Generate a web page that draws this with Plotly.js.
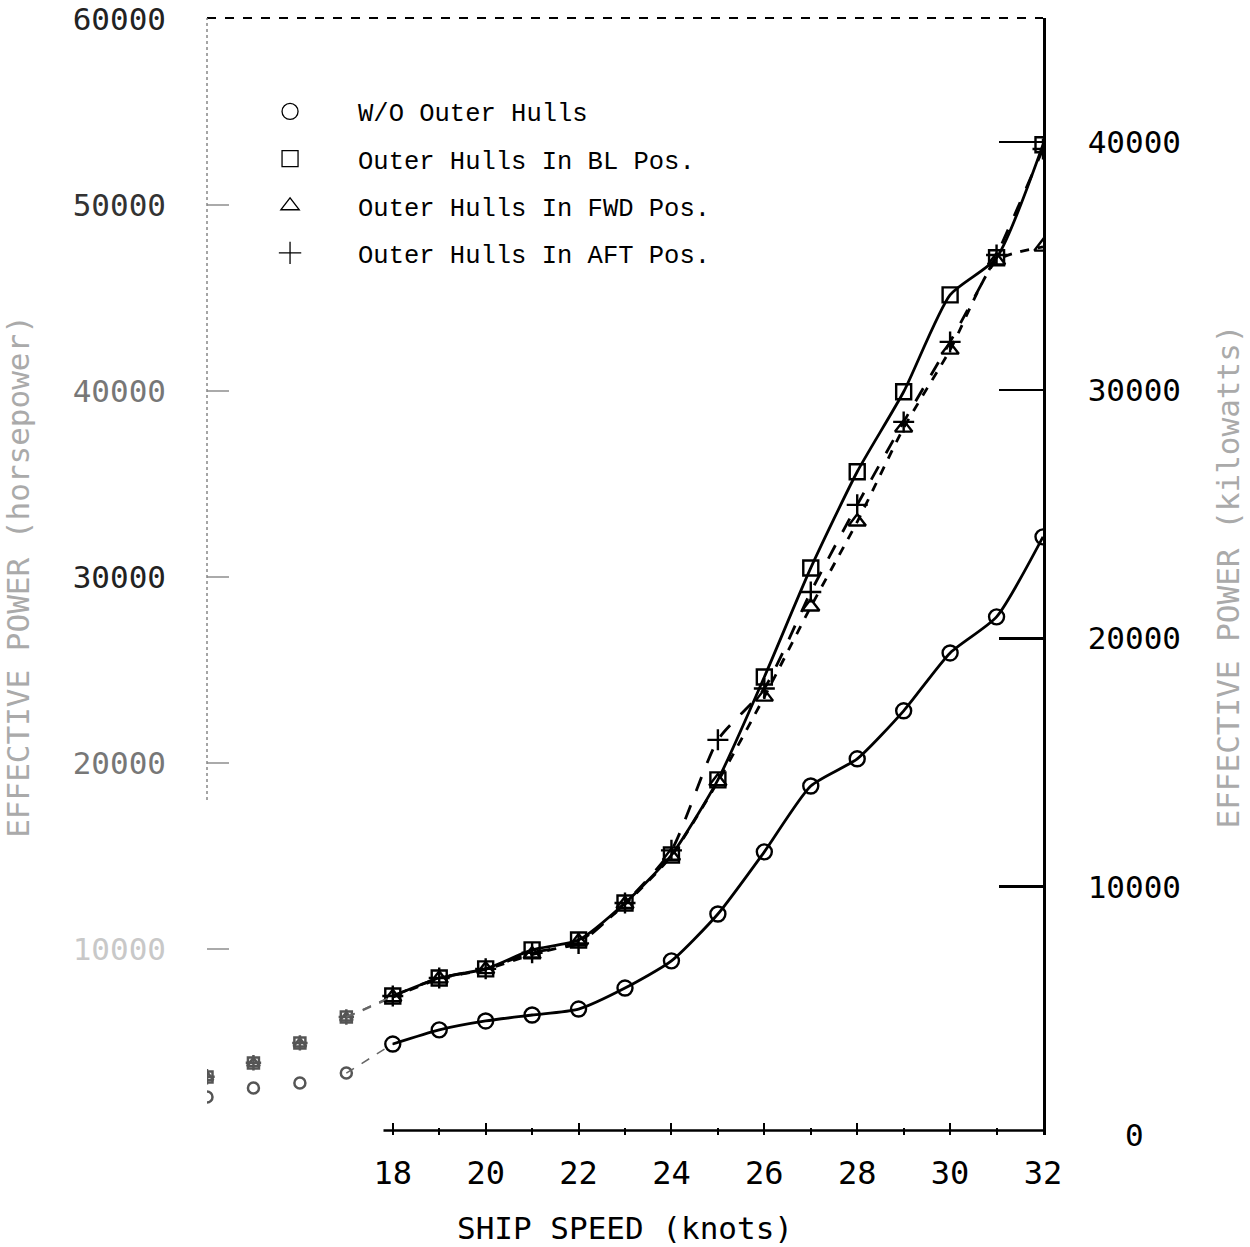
<!DOCTYPE html>
<html>
<head>
<meta charset="utf-8">
<script src="https://cdn.plot.ly/plotly-3.0.1.min.js"></script>
<style>html,body{margin:0;padding:0;background:#fff;}#chart{width:1250px;height:1247px;}</style>
</head>
<body>
<div id="chart"></div>
<script>
// Ship speed (knots)
const speeds = [14, 15, 16, 17, 18, 19, 20, 21, 22, 23, 24, 25, 26, 27, 28, 29, 30, 31, 32];
// Effective power (horsepower)
const woOuterHulls = [2040, 2530, 2800, 3330, 4890, 5650, 6130, 6450, 6770, 7900, 9360, 11880, 15220, 18760, 20220, 22800, 25910, 27850, 32150];
const blPos        = [3120, 3870, 4950, 6340, 7470, 8440, 8930, 9950, 10480, 12470, 15050, 19090, 24620, 30480, 35650, 39950, 45160, 47150, 53230];
const fwdPos       = [3100, 3850, 4900, 6300, 7400, 8400, 8900, 9700, 10400, 12400, 15000, 19000, 23550, 28390, 32960, 38010, 42200, 47000, 47740];
const aftPos       = [3130, 3880, 4950, 6340, 7470, 8440, 8930, 9800, 10300, 12470, 15300, 21240, 24000, 29190, 33870, 38330, 42630, 47300, 53000];
const seriesNames = ["W/O Outer Hulls", "Outer Hulls In BL Pos.", "Outer Hulls In FWD Pos.", "Outer Hulls In AFT Pos."];
const xTicks = [18, 20, 22, 24, 26, 28, 30, 32];
const xTickText = ["18", "20", "22", "24", "26", "28", "30", "32"];
const xMinorTicks = [19, 21, 23, 25, 27, 29, 31];
const hpTicks = [10000, 20000, 30000, 40000, 50000, 60000];
const hpTickText = ["10000", "20000", "30000", "40000", "50000", "60000"];
const hpTickShade = ["#c8c8c8", "#777", "#222", "#777", "#333", "#222"];
const kwTicks = [0, 10000, 20000, 30000, 40000];
const kwTickText = ["\u00a0\u00a00", "10000", "20000", "30000", "40000"];

const series = [
  {name: seriesNames[0], y: woOuterHulls, symbol: "circle-open", dash: "solid"},
  {name: seriesNames[1], y: blPos, symbol: "square-open", dash: "solid"},
  {name: seriesNames[2], y: fwdPos, symbol: "triangle-up-open", dash: "dash"},
  {name: seriesNames[3], y: aftPos, symbol: "cross-thin-open", dash: "longdash"}
];
const i17 = speeds.indexOf(17);
const i18 = speeds.indexOf(18);
const traces = [];
series.forEach(s => {
  // faint low-speed points (no connecting line)
  traces.push({
    x: speeds.slice(0, i17 + 1), y: s.y.slice(0, i17 + 1),
    mode: "markers", showlegend: false, hoverinfo: "skip",
    marker: {symbol: s.symbol, size: 11, color: "#555", line: {color: "#555", width: 2.5}}
  });
  // faint connector 17 -> 18
  traces.push({
    x: speeds.slice(i17, i18 + 1), y: s.y.slice(i17, i18 + 1),
    mode: "lines", showlegend: false, hoverinfo: "skip",
    line: {color: "#666", width: 1.5, dash: "dash"}
  });
  traces.push({
    x: speeds.slice(i18), y: s.y.slice(i18),
    mode: "lines+markers", showlegend: false,
    line: {color: "#000", width: 2.8, dash: s.dash, shape: "spline", smoothing: 0.6},
    marker: {symbol: s.symbol, size: 15, color: "#000", line: {color: "#000", width: 2.4}}
  });
});
series.forEach((s, i) => {
  traces.push({
    x: [null], y: [null], mode: "markers", name: s.name, legendgroup: "g" + i,
    marker: {symbol: s.symbol, size: 20, color: "#000", line: {color: "#000", width: 1.3}}
  });
});
traces.push({x: [null], y: [null], yaxis: "y2", showlegend: false, hoverinfo: "skip", mode: "markers"});

const titleFont = {family: "DejaVu Sans Mono", size: 31, color: "#000"};
const layout = {
  width: 1250, height: 1247,
  margin: {l: 207, r: 207, t: 18, b: 112},
  paper_bgcolor: "#fff", plot_bgcolor: "#fff",
  showlegend: true,
  legend: {x: 0.018, y: 0.937, xanchor: "left", yanchor: "top", bgcolor: "rgba(0,0,0,0)",
           font: {family: "Liberation Mono", size: 25.5, color: "#000"}, tracegroupgap: 11,
           traceorder: "grouped", itemwidth: 126},
  xaxis: {
    range: [14, 32], tickvals: xTicks, ticktext: xTickText, ticks: "inside", ticklen: 12, tickwidth: 2, tickcolor: "#000",
    showgrid: false, zeroline: false, showline: false, ticklabelstandoff: 16,
    tickfont: {family: "DejaVu Sans Mono", size: 32, color: "#000"},
    minor: {tickvals: xMinorTicks, ticks: "inside", ticklen: 7, tickwidth: 2, tickcolor: "#000"},
    title: {text: "SHIP SPEED (knots)", font: titleFont, standoff: 26}
  },
  yaxis: {
    range: [0, 60040], tickvals: hpTicks,
    ticktext: hpTickText.map((t, i) => '<span style="color:' + hpTickShade[i] + '">' + t + '</span>'),
    ticks: "inside", ticklen: 22, tickwidth: 1.5, tickcolor: "#aaa",
    showgrid: false, zeroline: false, showline: false, ticklabelstandoff: 40,
    tickfont: {family: "DejaVu Sans Mono", size: 31, color: "#222"},
    title: {text: "EFFECTIVE POWER (horsepower)", font: Object.assign({}, titleFont, {color: "#aaa"}), standoff: 34}
  },
  yaxis2: {
    overlaying: "y", side: "right", range: [0, 44990], tickvals: kwTicks, ticktext: kwTickText,
    ticks: "inside", ticklen: 44, tickwidth: 2.5, tickcolor: "#000",
    showgrid: false, zeroline: false, showline: true, linewidth: 2.5, linecolor: "#000",
    ticklabelstandoff: 36,
    tickfont: {family: "DejaVu Sans Mono", size: 31, color: "#000"},
    title: {text: "EFFECTIVE POWER (kilowatts)", font: Object.assign({}, titleFont, {color: "#aaa"}), standoff: 38}
  },
  shapes: [
    {type: "line", xref: "paper", yref: "paper", x0: 0, x1: 1, y0: 1, y1: 1, line: {color: "#000", width: 2, dash: "dash"}},
    {type: "line", xref: "paper", yref: "paper", x0: 0, x1: 0, y0: 0.3, y1: 1, line: {color: "#888", width: 1.5, dash: "dot"}},
    {type: "line", xref: "x", yref: "paper", x0: 17.8, x1: 32, y0: 0.004, y1: 0.004, line: {color: "#000", width: 2.5}}
  ]
};
Plotly.newPlot("chart", traces, layout, {displayModeBar: false, staticPlot: true});
</script>
</body>
</html>
